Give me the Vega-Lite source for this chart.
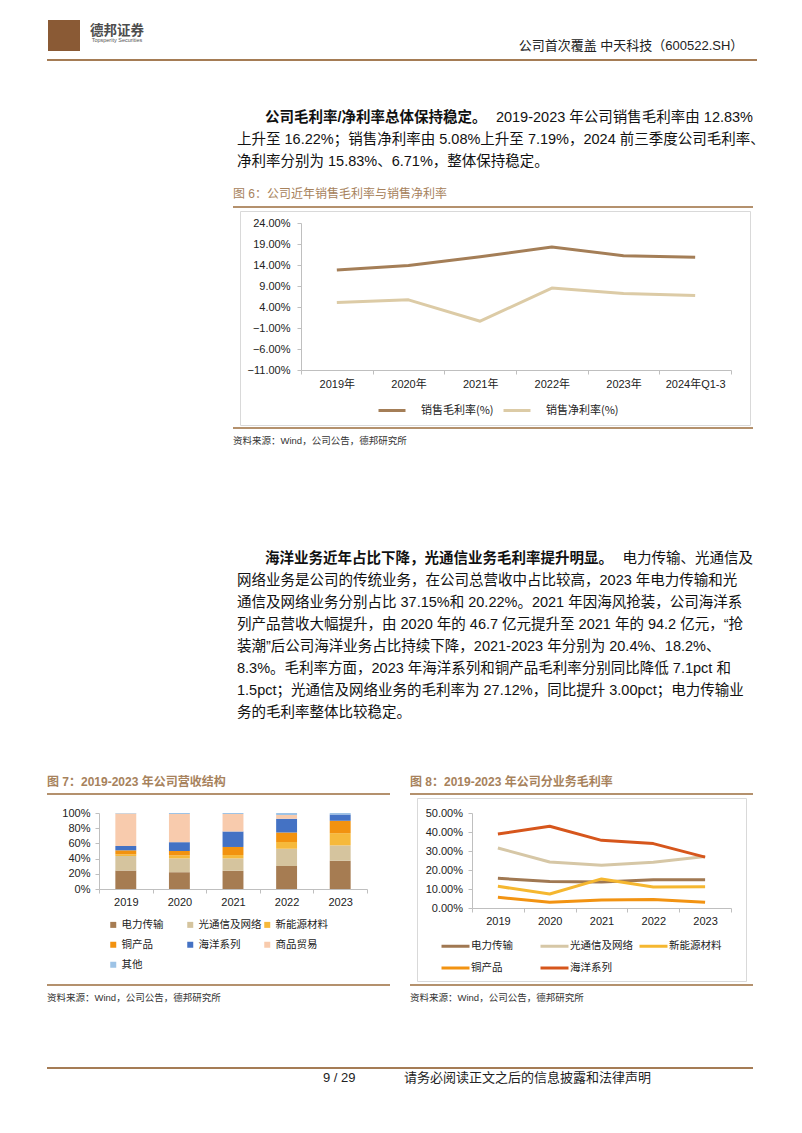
{
  "$schema": "https://vega.github.io/schema/vega-lite/v6.json",
  "background": "white",
  "padding": {"left": 47, "top": 0, "right": 0, "bottom": 0},
  "spacing": 0,
  "resolve": {"scale": {"color": "independent"}, "legend": {"color": "independent"}},
  "config": {
    "view": {"stroke": null},
    "concat": {"spacing": 0},
    "title": {"font": "Liberation Sans, Noto Sans CJK SC", "anchor": "start", "fontWeight": "normal", "color": "#222222"},
    "axis": {"labelFont": "Liberation Sans, Noto Sans CJK SC", "labelFontSize": 11, "labelColor": "#222222", "domainColor": "#BFBFBF", "tickColor": "#BFBFBF", "grid": false, "tickSize": 4},
    "legend": {"labelFont": "Noto Sans CJK SC", "labelFontSize": 11, "labelColor": "#222222", "padding": 0}
  },
  "datasets": {
    "p1": [
      {"line": 1, "seg": "lead", "t": "公司毛利率/净利率总体保持稳定。"},
      {"line": 1, "seg": "rest", "t": "2019-2023 年公司销售毛利率由 12.83%"},
      {"line": 2, "seg": "plain", "t": "上升至 16.22%；销售净利率由 5.08%上升至 7.19%，2024 前三季度公司毛利率、"},
      {"line": 3, "seg": "plain", "t": "净利率分别为 15.83%、6.71%，整体保持稳定。"}
    ],
    "p2": [
      {"line": 1, "seg": "lead", "t": "海洋业务近年占比下降，光通信业务毛利率提升明显。"},
      {"line": 1, "seg": "rest", "t": "电力传输、光通信及"},
      {"line": 2, "seg": "plain", "t": "网络业务是公司的传统业务，在公司总营收中占比较高，2023 年电力传输和光"},
      {"line": 3, "seg": "plain", "t": "通信及网络业务分别占比 37.15%和 20.22%。2021 年因海风抢装，公司海洋系"},
      {"line": 4, "seg": "plain", "t": "列产品营收大幅提升，由 2020 年的 46.7 亿元提升至 2021 年的 94.2 亿元，“抢"},
      {"line": 5, "seg": "plain", "t": "装潮”后公司海洋业务占比持续下降，2021-2023 年分别为 20.4%、18.2%、"},
      {"line": 6, "seg": "plain", "t": "8.3%。毛利率方面，2023 年海洋系列和铜产品毛利率分别同比降低 7.1pct 和"},
      {"line": 7, "seg": "plain", "t": "1.5pct；光通信及网络业务的毛利率为 27.12%，同比提升 3.00pct；电力传输业"},
      {"line": 8, "seg": "plain", "t": "务的毛利率整体比较稳定。"}
    ],
    "fig6": [
      {"year": "2019年", "s": "销售毛利率(%)", "v": 12.83},
      {"year": "2020年", "s": "销售毛利率(%)", "v": 13.9},
      {"year": "2021年", "s": "销售毛利率(%)", "v": 15.95},
      {"year": "2022年", "s": "销售毛利率(%)", "v": 18.3},
      {"year": "2023年", "s": "销售毛利率(%)", "v": 16.22},
      {"year": "2024年Q1-3", "s": "销售毛利率(%)", "v": 15.83},
      {"year": "2019年", "s": "销售净利率(%)", "v": 5.08},
      {"year": "2020年", "s": "销售净利率(%)", "v": 5.7},
      {"year": "2021年", "s": "销售净利率(%)", "v": 0.62},
      {"year": "2022年", "s": "销售净利率(%)", "v": 8.5},
      {"year": "2023年", "s": "销售净利率(%)", "v": 7.19},
      {"year": "2024年Q1-3", "s": "销售净利率(%)", "v": 6.71}
    ],
    "fig7": [
      {"year": "2019", "c": "电力传输", "k": 1, "v": 24.3},
      {"year": "2019", "c": "光通信及网络", "k": 2, "v": 19.1},
      {"year": "2019", "c": "新能源材料", "k": 3, "v": 2.2},
      {"year": "2019", "c": "铜产品", "k": 4, "v": 5.3},
      {"year": "2019", "c": "海洋系列", "k": 5, "v": 5.7},
      {"year": "2019", "c": "商品贸易", "k": 6, "v": 42.8},
      {"year": "2019", "c": "其他", "k": 7, "v": 0.6},
      {"year": "2020", "c": "电力传输", "k": 1, "v": 22.1},
      {"year": "2020", "c": "光通信及网络", "k": 2, "v": 18.2},
      {"year": "2020", "c": "新能源材料", "k": 3, "v": 3.9},
      {"year": "2020", "c": "铜产品", "k": 4, "v": 5.8},
      {"year": "2020", "c": "海洋系列", "k": 5, "v": 11.6},
      {"year": "2020", "c": "商品贸易", "k": 6, "v": 37.1},
      {"year": "2020", "c": "其他", "k": 7, "v": 1.3},
      {"year": "2021", "c": "电力传输", "k": 1, "v": 23.9},
      {"year": "2021", "c": "光通信及网络", "k": 2, "v": 16.4},
      {"year": "2021", "c": "新能源材料", "k": 3, "v": 4.4},
      {"year": "2021", "c": "铜产品", "k": 4, "v": 10.6},
      {"year": "2021", "c": "海洋系列", "k": 5, "v": 20.4},
      {"year": "2021", "c": "商品贸易", "k": 6, "v": 23.0},
      {"year": "2021", "c": "其他", "k": 7, "v": 1.3},
      {"year": "2022", "c": "电力传输", "k": 1, "v": 30.1},
      {"year": "2022", "c": "光通信及网络", "k": 2, "v": 23.0},
      {"year": "2022", "c": "新能源材料", "k": 3, "v": 8.8},
      {"year": "2022", "c": "铜产品", "k": 4, "v": 12.4},
      {"year": "2022", "c": "海洋系列", "k": 5, "v": 18.2},
      {"year": "2022", "c": "商品贸易", "k": 6, "v": 4.8},
      {"year": "2022", "c": "其他", "k": 7, "v": 2.7},
      {"year": "2023", "c": "电力传输", "k": 1, "v": 37.15},
      {"year": "2023", "c": "光通信及网络", "k": 2, "v": 20.22},
      {"year": "2023", "c": "新能源材料", "k": 3, "v": 16.1},
      {"year": "2023", "c": "铜产品", "k": 4, "v": 16.3},
      {"year": "2023", "c": "海洋系列", "k": 5, "v": 8.3},
      {"year": "2023", "c": "商品贸易", "k": 6, "v": 0.0},
      {"year": "2023", "c": "其他", "k": 7, "v": 1.93}
    ],
    "fig8": [
      {"year": "2019", "c": "电力传输", "v": 15.6},
      {"year": "2020", "c": "电力传输", "v": 13.9},
      {"year": "2021", "c": "电力传输", "v": 13.7},
      {"year": "2022", "c": "电力传输", "v": 14.9},
      {"year": "2023", "c": "电力传输", "v": 14.9},
      {"year": "2019", "c": "光通信及网络", "v": 31.6},
      {"year": "2020", "c": "光通信及网络", "v": 24.2},
      {"year": "2021", "c": "光通信及网络", "v": 22.5},
      {"year": "2022", "c": "光通信及网络", "v": 24.12},
      {"year": "2023", "c": "光通信及网络", "v": 27.12},
      {"year": "2019", "c": "新能源材料", "v": 11.4},
      {"year": "2020", "c": "新能源材料", "v": 7.4},
      {"year": "2021", "c": "新能源材料", "v": 15.3},
      {"year": "2022", "c": "新能源材料", "v": 11.1},
      {"year": "2023", "c": "新能源材料", "v": 11.2},
      {"year": "2019", "c": "铜产品", "v": 5.6},
      {"year": "2020", "c": "铜产品", "v": 3.0},
      {"year": "2021", "c": "铜产品", "v": 4.2},
      {"year": "2022", "c": "铜产品", "v": 4.5},
      {"year": "2023", "c": "铜产品", "v": 3.0},
      {"year": "2019", "c": "海洋系列", "v": 38.9},
      {"year": "2020", "c": "海洋系列", "v": 43.0},
      {"year": "2021", "c": "海洋系列", "v": 35.6},
      {"year": "2022", "c": "海洋系列", "v": 33.9},
      {"year": "2023", "c": "海洋系列", "v": 26.8}
    ]
  },
  "vconcat": [
    {"width": 1, "height": 20, "data": {"values": []}, "mark": "point"},
    {
      "hconcat": [
        {"width": 1, "height": 39, "data": {"values": []}, "mark": "point"},
        {"width": 32, "height": 31, "view": {"fill": "#8A5A35"}, "data": {"values": []}, "mark": "point"},
        {"width": 12, "height": 39, "data": {"values": []}, "mark": "point"},
        {
          "width": 50, "height": 39,
          "layer": [
            {"data": {"values": [{"t": "德邦证券"}]}, "mark": {"type": "text", "font": "Noto Sans CJK SC", "fontSize": 13.5, "fontWeight": "bold", "color": "#4D4D4D", "baseline": "middle", "dy": -8.5}, "encoding": {"text": {"field": "t"}}},
            {"data": {"values": [{"t": "Topsperity Securities"}]}, "mark": {"type": "text", "font": "Liberation Sans", "fontSize": 5.5, "color": "#555555", "baseline": "middle", "dy": 0.5}, "encoding": {"text": {"field": "t"}}}
          ]
        },
        {"width": 369, "height": 39, "data": {"values": []}, "mark": "point"},
        {"width": 240, "height": 39, "data": {"values": [{"t": "公司首次覆盖 中天科技（600522.SH）"}]}, "mark": {"type": "text", "font": "Liberation Sans, Noto Sans CJK SC", "fontSize": 13, "color": "#222222", "baseline": "middle", "dy": 6.5}, "encoding": {"text": {"field": "t"}}}
      ],
      "spacing": 0, "bounds": "flush"
    },
    {"width": 710, "height": 2, "view": {"fill": "#A57C55"}, "data": {"values": []}, "mark": "point"},
    {"width": 1, "height": 46, "data": {"values": []}, "mark": "point"},
    {
      "hconcat": [
        {"width": 190, "height": 66, "data": {"values": []}, "mark": "point"},
        {
          "width": 516, "height": 66,
          "data": {"name": "p1"},
          "encoding": {"y": {"field": "line", "type": "ordinal", "scale": {"type": "point", "padding": 0.5}, "axis": null}},
          "layer": [
            {"transform": [{"filter": "datum.seg == 'plain'"}], "mark": {"type": "text", "align": "left", "baseline": "middle", "fontSize": 14.5, "font": "Liberation Sans, Noto Sans CJK SC", "color": "#111111"}, "encoding": {"x": {"datum": 0, "type": "quantitative", "scale": {"domain": [0, 37], "nice": false, "zero": false}, "axis": null}, "text": {"field": "t"}}},
            {"transform": [{"filter": "datum.seg == 'lead'"}], "mark": {"type": "text", "align": "left", "baseline": "middle", "fontSize": 14.5, "fontWeight": "bold", "font": "Liberation Sans, Noto Sans CJK SC", "color": "#111111"}, "encoding": {"x": {"datum": 2, "type": "quantitative", "scale": {"domain": [0, 37], "nice": false, "zero": false}, "axis": null}, "text": {"field": "t"}}},
            {"transform": [{"filter": "datum.seg == 'rest'"}], "mark": {"type": "text", "align": "right", "baseline": "middle", "fontSize": 14.5, "font": "Liberation Sans, Noto Sans CJK SC", "color": "#111111"}, "encoding": {"x": {"datum": 37, "type": "quantitative", "scale": {"domain": [0, 37], "nice": false, "zero": false}, "axis": null}, "text": {"field": "t"}}}
          ]
        }
      ],
      "spacing": 0, "bounds": "flush"
    },
    {"width": 1, "height": 15, "data": {"values": []}, "mark": "point"},
    {
      "hconcat": [
        {"width": 186, "height": 2, "data": {"values": []}, "mark": "point"},
        {"width": 520, "height": 2, "view": {"fill": "#B4916D"}, "data": {"values": []}, "mark": "point",
         "title": {"text": "图 6：公司近年销售毛利率与销售净利率", "orient": "top", "anchor": "start", "offset": 5, "fontSize": 12, "color": "#A7825C", "font": "Liberation Sans, Noto Sans CJK SC"}}
      ],
      "spacing": 0, "bounds": "flush"
    },
    {"width": 1, "height": 2, "data": {"values": []}, "mark": "point"},
    {
      "hconcat": [
        {"width": 193, "height": 214, "data": {"values": []}, "mark": "point"},
        {
          "width": 510, "height": 214,
          "view": {"stroke": "#D9D9D9", "strokeWidth": 1},
          "data": {"name": "fig6"},
          "mark": {"type": "line", "strokeWidth": 3, "strokeJoin": "round"},
          "encoding": {
            "x": {"field": "year", "type": "nominal", "sort": null,
              "scale": {"type": "band", "range": [61, 491], "paddingInner": 0, "paddingOuter": 0},
              "axis": {"title": null, "orient": "bottom", "offset": -55, "labelAngle": 0, "tickBand": "extent", "labelPadding": 4}},
            "y": {"field": "v", "type": "quantitative",
              "scale": {"domain": [-11, 24], "range": [159, 12], "nice": false, "zero": false},
              "axis": {"title": null, "offset": -61, "values": [-11, -6, -1, 4, 9, 14, 19, 24], "labelExpr": "format(datum.value, '.2f') + '%'", "labelPadding": 7}},
            "color": {"field": "s", "type": "nominal",
              "scale": {"domain": ["销售毛利率(%)", "销售净利率(%)"], "range": ["#A47E57", "#DCCBA6"]},
              "legend": {"title": null, "orient": "none", "legendX": 137, "legendY": 184.5, "direction": "horizontal", "symbolType": "stroke", "symbolSize": 729, "symbolStrokeWidth": 3, "labelOffset": 14, "columnPadding": 3}}
          }
        }
      ],
      "spacing": 0, "bounds": "flush",
      "resolve": {"scale": {"color": "independent"}, "legend": {"color": "independent"}}
    },
    {"width": 1, "height": 1, "data": {"values": []}, "mark": "point"},
    {
      "hconcat": [
        {"width": 186, "height": 2, "data": {"values": []}, "mark": "point"},
        {"width": 520, "height": 2, "view": {"fill": "#B4916D"}, "data": {"values": []}, "mark": "point",
         "title": {"text": "资料来源：Wind，公司公告，德邦研究所", "orient": "bottom", "anchor": "start", "offset": 7, "fontSize": 9.5, "color": "#333333", "font": "Liberation Sans, Noto Sans CJK SC"}}
      ],
      "spacing": 0, "bounds": "flush"
    },
    {"width": 1, "height": 101.5, "data": {"values": []}, "mark": "point"},
    {
      "hconcat": [
        {"width": 190, "height": 176, "data": {"values": []}, "mark": "point"},
        {
          "width": 516, "height": 176,
          "data": {"name": "p2"},
          "encoding": {"y": {"field": "line", "type": "ordinal", "scale": {"type": "point", "padding": 0.5}, "axis": null}},
          "layer": [
            {"transform": [{"filter": "datum.seg == 'plain'"}], "mark": {"type": "text", "align": "left", "baseline": "middle", "fontSize": 14.5, "font": "Liberation Sans, Noto Sans CJK SC", "color": "#111111"}, "encoding": {"x": {"datum": 0, "type": "quantitative", "scale": {"domain": [0, 37], "nice": false, "zero": false}, "axis": null}, "text": {"field": "t"}}},
            {"transform": [{"filter": "datum.seg == 'lead'"}], "mark": {"type": "text", "align": "left", "baseline": "middle", "fontSize": 14.5, "fontWeight": "bold", "font": "Liberation Sans, Noto Sans CJK SC", "color": "#111111"}, "encoding": {"x": {"datum": 2, "type": "quantitative", "scale": {"domain": [0, 37], "nice": false, "zero": false}, "axis": null}, "text": {"field": "t"}}},
            {"transform": [{"filter": "datum.seg == 'rest'"}], "mark": {"type": "text", "align": "right", "baseline": "middle", "fontSize": 14.5, "font": "Liberation Sans, Noto Sans CJK SC", "color": "#111111"}, "encoding": {"x": {"datum": 37, "type": "quantitative", "scale": {"domain": [0, 37], "nice": false, "zero": false}, "axis": null}, "text": {"field": "t"}}}
          ]
        }
      ],
      "spacing": 0, "bounds": "flush"
    },
    {"width": 1, "height": 50.5, "data": {"values": []}, "mark": "point"},
    {
      "hconcat": [
        {"width": 343, "height": 2, "view": {"fill": "#B4916D"}, "data": {"values": []}, "mark": "point",
         "title": {"text": "图 7：2019-2023 年公司营收结构", "orient": "top", "anchor": "start", "offset": 4.5, "fontSize": 12, "fontWeight": "bold", "color": "#A7825C", "font": "Liberation Sans, Noto Sans CJK SC"}},
        {"width": 20, "height": 2, "data": {"values": []}, "mark": "point"},
        {"width": 343, "height": 2, "view": {"fill": "#B4916D"}, "data": {"values": []}, "mark": "point",
         "title": {"text": "图 8：2019-2023 年公司分业务毛利率", "orient": "top", "anchor": "start", "offset": 4.5, "fontSize": 12, "fontWeight": "bold", "color": "#A7825C", "font": "Liberation Sans, Noto Sans CJK SC"}}
      ],
      "spacing": 0, "bounds": "flush"
    },
    {"width": 1, "height": 2, "data": {"values": []}, "mark": "point"},
    {
      "hconcat": [
        {
          "width": 343, "height": 183,
          "data": {"name": "fig7"},
          "mark": {"type": "bar", "width": {"band": 0.39}},
          "encoding": {
            "x": {"field": "year", "type": "nominal",
              "scale": {"type": "band", "range": [52, 320], "paddingInner": 0, "paddingOuter": 0},
              "axis": {"title": null, "offset": -92, "labelAngle": 0, "tickBand": "extent", "labelPadding": 3}},
            "y": {"field": "v", "type": "quantitative", "stack": "zero",
              "scale": {"domain": [0, 100], "range": [91, 15], "nice": false},
              "axis": {"title": null, "offset": -52, "values": [0, 20, 40, 60, 80, 100], "labelExpr": "datum.value + '%'", "labelPadding": 5}},
            "color": {"field": "c", "type": "nominal",
              "scale": {"domain": ["电力传输", "铜产品", "商品贸易", "光通信及网络", "海洋系列", "其他", "新能源材料"],
                        "range": ["#A67C52", "#F2920F", "#F8CBAD", "#D5C49E", "#4472C4", "#9DC3E6", "#F6B93B"]},
              "legend": {"title": null, "orient": "none", "legendX": 61, "legendY": 121.5, "columns": 3, "symbolType": "square", "symbolSize": 36, "gridAlign": "all", "columnPadding": 0, "rowPadding": 9, "labelOffset": 3, "labelFontSize": 10.5}},
            "order": {"field": "k", "type": "quantitative"}
          }
        },
        {"width": 27, "height": 183, "data": {"values": []}, "mark": "point"},
        {
          "width": 329, "height": 183,
          "view": {"stroke": "#D9D9D9", "strokeWidth": 1},
          "data": {"name": "fig8"},
          "mark": {"type": "line", "strokeWidth": 3, "strokeJoin": "round"},
          "encoding": {
            "x": {"field": "year", "type": "nominal",
              "scale": {"type": "band", "range": [55, 314], "paddingInner": 0, "paddingOuter": 0},
              "axis": {"title": null, "offset": -73, "labelAngle": 0, "tickBand": "extent", "labelPadding": 3.5}},
            "y": {"field": "v", "type": "quantitative",
              "scale": {"domain": [0, 50], "range": [110, 15], "nice": false, "zero": false},
              "axis": {"title": null, "offset": -55, "values": [0, 10, 20, 30, 40, 50], "labelExpr": "format(datum.value, '.2f') + '%'", "labelPadding": 5.5}},
            "color": {"field": "c", "type": "nominal",
              "scale": {"domain": ["电力传输", "铜产品", "光通信及网络", "海洋系列", "新能源材料"],
                        "range": ["#A07852", "#F29312", "#D6C7A6", "#D6561C", "#F5B730"]},
              "legend": {"title": null, "orient": "none", "legendX": 23, "legendY": 132.5, "columns": 3, "symbolType": "stroke", "symbolSize": 784, "symbolStrokeWidth": 3, "gridAlign": "all", "columnPadding": 0, "rowPadding": -2, "labelOffset": 0, "labelFontSize": 10.5}}
          }
        }
      ],
      "spacing": 0, "bounds": "flush",
      "resolve": {"scale": {"color": "independent"}, "legend": {"color": "independent"}}
    },
    {"width": 1, "height": 2, "data": {"values": []}, "mark": "point"},
    {
      "hconcat": [
        {"width": 343, "height": 2, "view": {"fill": "#B4916D"}, "data": {"values": []}, "mark": "point",
         "title": {"text": "资料来源：Wind，公司公告，德邦研究所", "orient": "bottom", "anchor": "start", "offset": 7, "fontSize": 9.5, "color": "#333333", "font": "Liberation Sans, Noto Sans CJK SC"}},
        {"width": 20, "height": 2, "data": {"values": []}, "mark": "point"},
        {"width": 343, "height": 2, "view": {"fill": "#B4916D"}, "data": {"values": []}, "mark": "point",
         "title": {"text": "资料来源：Wind，公司公告，德邦研究所", "orient": "bottom", "anchor": "start", "offset": 7, "fontSize": 9.5, "color": "#333333", "font": "Liberation Sans, Noto Sans CJK SC"}}
      ],
      "spacing": 0, "bounds": "flush"
    },
    {"width": 1, "height": 63.5, "data": {"values": []}, "mark": "point"},
    {
      "hconcat": [
        {"width": 276, "height": 2, "view": {"fill": "#A57C55"}, "data": {"values": []}, "mark": "point"},
        {"width": 81, "height": 2, "view": {"fill": "#A57C55"}, "data": {"values": []}, "mark": "point",
         "title": {"text": "9 / 29", "orient": "bottom", "anchor": "start", "offset": 3, "fontSize": 13, "color": "#222222", "font": "Liberation Sans Narrow, Liberation Sans"}},
        {"width": 349, "height": 2, "view": {"fill": "#A57C55"}, "data": {"values": []}, "mark": "point",
         "title": {"text": "请务必阅读正文之后的信息披露和法律声明", "orient": "bottom", "anchor": "start", "offset": 3, "fontSize": 13, "color": "#222222", "font": "Noto Sans CJK SC"}}
      ],
      "spacing": 0, "bounds": "flush"
    }
  ]
}
